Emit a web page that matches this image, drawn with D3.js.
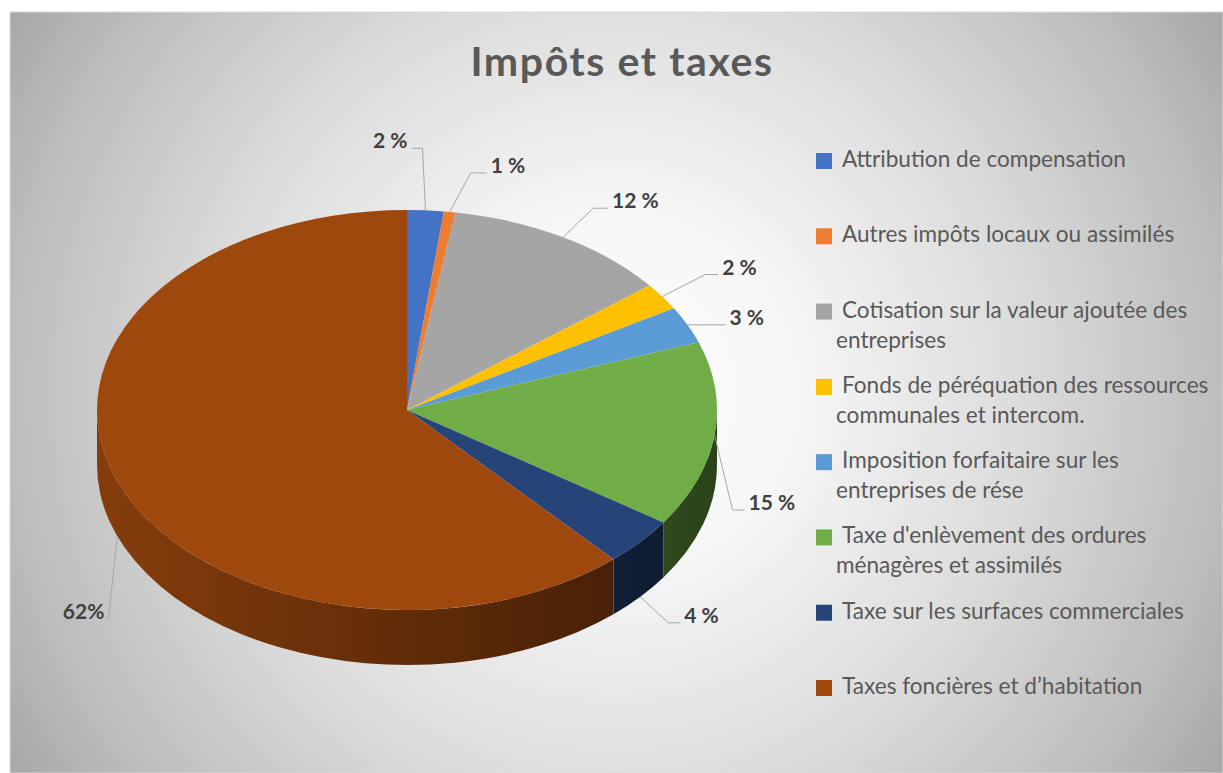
<!DOCTYPE html>
<html>
<head>
<meta charset="utf-8">
<script src="https://cdn.jsdelivr.net/npm/d3@7"></script>
<style>
body { margin: 0; background: #fff; }
svg { display: block; }
text { font-family: Lato, "Open Sans", sans-serif; }
</style>
</head>
<body>
<svg id="chart" width="1223" height="773"></svg>
<script>
const categories = [
    'Attribution de compensation',
    'Autres impôts locaux ou assimilés',
    'Cotisation sur la valeur ajoutée des entreprises',
    'Fonds de péréquation des ressources communales et intercom.',
    'Imposition forfaitaire sur les entreprises de rése',
    "Taxe d'enlèvement des ordures ménagères et assimilés",
    'Taxe sur les surfaces commerciales',
    'Taxes foncières et d\u2019habitation'
];
const shares = [1.9, 0.6, 11.8, 2.2, 3.0, 15.0, 3.9, 61.6];
const labels = ['2 %', '1 %', '12 %', '2 %', '3 %', '15 %', '4 %', '62%'];
const colors = ['#4472C4', '#ED7D31', '#A5A5A5', '#FFC000', '#5B9BD5', '#70AD47', '#264478', '#9E480E'];

// where each leader line bends (relative to its anchor on the pie edge) and how long its flat arm is
const labelNudge = [[-3, -62], [21, -39], [30, -29], [43, -22], [0, 0], [18, 75], [28, 26], [-9, 83]];
const labelArm = [11, 16, 15, 13, 38, 12, 12, 0];

const width = 1223, height = 773;
const cx = 407, cy = 410, rx = 310, ry = 200, depth = 55;

const svg = d3.select('#chart');
const defs = svg.append('defs');

// radial background like the excel preset
const bg = defs.append('radialGradient')
    .attr('id', 'bg')
    .attr('gradientUnits', 'userSpaceOnUse')
    .attr('cx', 616).attr('cy', 392).attr('r', 720);
[[0, '#ffffff'], [0.25, '#f6f6f6'], [0.55, '#dddddd'], [0.85, '#bcbcbc'], [1, '#a6a6a6']]
    .forEach(([o, c]) => bg.append('stop').attr('offset', o).attr('stop-color', c));

svg.append('rect')
    .attr('x', 10).attr('y', 12)
    .attr('width', width - 10).attr('height', height - 12)
    .attr('fill', 'url(#bg)')
    .attr('stroke', '#d9d9d9');

svg.append('text')
    .attr('x', 622).attr('y', 76)
    .attr('text-anchor', 'middle')
    .attr('font-size', 41)
    .attr('font-weight', 700)
    .attr('letter-spacing', 1.6)
    .attr('fill', '#595959')
    .text('Impôts et taxes');

const color = d3.scaleOrdinal().domain(categories).range(colors);

const slices = d3.pie()
    .sort(null)
    .value(d => d.value)(categories.map((name, i) => ({name, value: shares[i], label: labels[i]})));

// angle is clockwise from 12 o'clock, same as d3.pie
const pt = (a, dy = 0) => [cx + rx * Math.sin(a), cy - ry * Math.cos(a) + dy];

const topPath = d => {
    const large = d.endAngle - d.startAngle > Math.PI ? 1 : 0;
    return `M${cx},${cy}L${pt(d.startAngle)}A${rx},${ry} 0 ${large} 1 ${pt(d.endAngle)}Z`;
};

const sidePath = (s, e) => {
    const large = e - s > Math.PI ? 1 : 0;
    return `M${pt(s)}A${rx},${ry} 0 ${large} 1 ${pt(e)}L${pt(e, depth)}A${rx},${ry} 0 ${large} 0 ${pt(s, depth)}Z`;
};

// side shading gets darker to the right
slices.forEach((d, i) => {
    const c = color(d.data.name);
    const g = defs.append('linearGradient')
        .attr('id', `side-${i}`)
        .attr('gradientUnits', 'userSpaceOnUse')
        .attr('x1', cx - rx).attr('x2', cx + rx).attr('y1', 0).attr('y2', 0);
    g.append('stop').attr('offset', 0).attr('stop-color', d3.interpolateRgb(c, '#000')(0.15));
    g.append('stop').attr('offset', 1).attr('stop-color', d3.interpolateRgb(c, '#000')(0.62));
});

const front = slices
    .map((d, i) => ({i, s: Math.max(d.startAngle, Math.PI / 2), e: Math.min(d.endAngle, 3 * Math.PI / 2)}))
    .filter(d => d.e > d.s);

svg.append('g')
    .selectAll('path')
    .data(front)
    .enter()
    .append('path')
    .attr('d', d => sidePath(d.s, d.e))
    .attr('fill', d => `url(#side-${d.i})`);

svg.append('g')
    .selectAll('path')
    .data(slices)
    .enter()
    .append('path')
    .attr('d', topPath)
    .attr('fill', d => color(d.data.name));

// data labels with leader lines
const labelG = svg.append('g');
slices.forEach((d, i) => {
    const mid = (d.startAngle + d.endAngle) / 2;
    const anchor = pt(mid, Math.cos(mid) < -0.3 ? depth : 0);
    const [dx, dy] = labelNudge[i];
    const elbow = [anchor[0] + dx, anchor[1] + dy];
    const dir = Math.sin(mid) < 0 || (dx < 0 && dy < -40) ? -1 : 1;
    const end = [elbow[0] + dir * labelArm[i], elbow[1]];

    labelG.append('polyline')
        .attr('points', [anchor, elbow, end].join(' '))
        .attr('fill', 'none')
        .attr('stroke', '#a6a6a6')
        .attr('stroke-width', 1);

    labelG.append('text')
        .attr('x', end[0] + dir * 4)
        .attr('y', elbow[1])
        .attr('text-anchor', dir < 0 ? 'end' : 'start')
        .attr('font-size', 21)
        .attr('font-weight', 700)
        .attr('fill', '#404040')
        .text(d.data.label);
});

// legend
const legendY = d3.scalePoint().domain(categories).range([167, 694]);
const legendMax = 378;

const item = svg.append('g')
    .selectAll('g')
    .data(categories)
    .enter()
    .append('g')
    .attr('transform', d => `translate(0,${legendY(d)})`);

item.append('rect')
    .attr('x', 816).attr('y', -14)
    .attr('width', 16).attr('height', 16)
    .attr('fill', d => color(d));

item.append('text')
    .attr('font-size', 22.6)
    .attr('fill', '#595959')
    .each(function (name) {
        const t = d3.select(this);
        const words = name.split(' ');
        let line = [];
        let lineNo = 0;
        let span = t.append('tspan').attr('x', 842).attr('y', 0);
        words.forEach(w => {
            line.push(w);
            span.text(line.join(' '));
            if (span.node().getComputedTextLength() > legendMax && line.length > 1) {
                line.pop();
                span.text(line.join(' '));
                line = [w];
                lineNo++;
                span = t.append('tspan').attr('x', 836).attr('y', lineNo * 30).text(w);
            }
        });
    });
</script>
</body>
</html>
